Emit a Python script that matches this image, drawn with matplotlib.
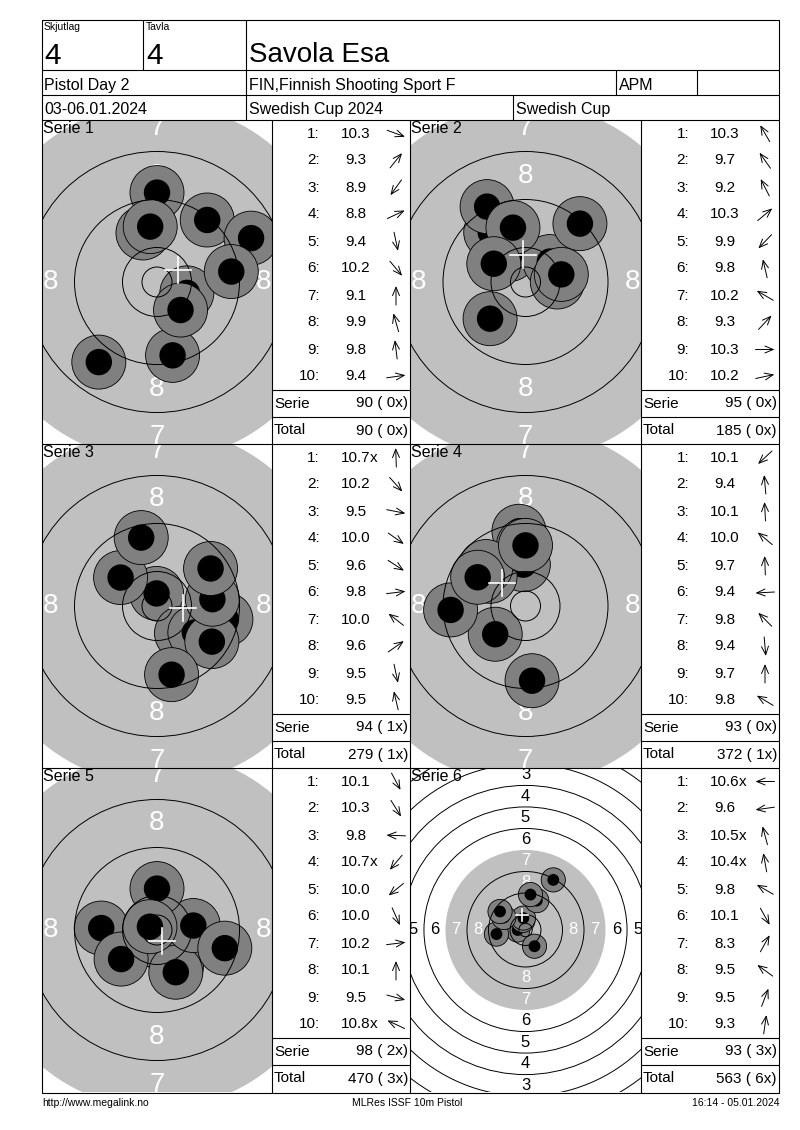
import numpy as np
import matplotlib.pyplot as plt
from matplotlib.patches import Circle

plt.rcParams['font.family'] = ['Liberation Sans', 'DejaVu Sans']

W, H = 800, 1130

# Header / footer texts
relay = "4"
lane = "4"
shooter = "Savola Esa"
event = "Pistol Day 2"
club = "FIN,Finnish Shooting Sport F"
shooter_class = "APM"
dates = "03-06.01.2024"
competition = "Swedish Cup 2024"
cup = "Swedish Cup"
footer_left = "http://www.megalink.no"
footer_mid = "MLRes ISSF 10m Pistol"
footer_right = "16:14 - 05.01.2024"

# Decimal scores per series
scores_1 = [10.3, 9.3, 8.9, 8.8, 9.4, 10.2, 9.1, 9.9, 9.8, 9.4]
scores_2 = [10.3, 9.7, 9.2, 10.3, 9.9, 9.8, 10.2, 9.3, 10.3, 10.2]
scores_3 = [10.7, 10.2, 9.5, 10.0, 9.6, 9.8, 10.0, 9.6, 9.5, 9.5]
scores_4 = [10.1, 9.4, 10.1, 10.0, 9.7, 9.4, 9.8, 9.4, 9.7, 9.8]
scores_5 = [10.1, 10.3, 9.8, 10.7, 10.0, 10.0, 10.2, 10.1, 9.5, 10.8]
scores_6 = [10.6, 9.6, 10.5, 10.4, 9.8, 10.1, 8.3, 9.5, 9.5, 9.3]

# Inner tens (shot numbers)
inner_1 = []
inner_2 = []
inner_3 = [1]
inner_4 = []
inner_5 = [4, 10]
inner_6 = [1, 3, 4]

# Shot direction from target centre, degrees (0 = right, 90 = up)
angles_1 = [-20, 51, -126, 25, -78, -50, 90, 106, 97, 8]
angles_2 = [120, 125, 117, 40, -134, 103, 150, 47, 0, 12]
angles_3 = [92, -48, -11, -35, -33, 7, 142, 35, -78, 103]
angles_4 = [-137, 95, 93, 140, 92, 183, 135, -85, 90, 149]
angles_5 = [-62, -58, 178, -130, -141, -66, 7, 90, -15, 155]
angles_6 = [180, 188, 105, 100, 150, -61, 61, 144, 69, 82]

all_scores = [scores_1, scores_2, scores_3, scores_4, scores_5, scores_6]
all_inner = [inner_1, inner_2, inner_3, inner_4, inner_5, inner_6]
all_angles = [angles_1, angles_2, angles_3, angles_4, angles_5, angles_6]

# display zoom of each target (pixels per mm) and ring label size
px_per_mm = [6.0, 6.0, 6.0, 6.0, 6.0, 2.69]
label_size = [20, 20, 20, 20, 20, 12]

# ISSF 10m pistol target (mm)
X_RING = 2.5
PELLET = 4.5


def ring_radius(k):
    return 5.75 + 8 * (10 - k)


fig = plt.figure(figsize=(W / 100, H / 100), dpi=100)
fig.patch.set_facecolor('white')

page = fig.add_axes([0, 0, 1, 1])
page.set_xlim(0, W)
page.set_ylim(H, 0)
page.axis('off')
page.set_zorder(5)
page.patch.set_visible(False)

LW = 0.8
left, right, top, bottom = 42, 779, 20, 1093


def hline(y, x0, x1):
    page.plot([x0, x1], [y, y], color='black', lw=LW, solid_capstyle='butt')


def vline(x, y0, y1):
    page.plot([x, x], [y0, y1], color='black', lw=LW, solid_capstyle='butt')


# frame and header
page.add_patch(plt.Rectangle((left, top), right - left, bottom - top,
                             fill=False, ec='black', lw=LW))
for y in (70, 95, 120):
    hline(y, left, right)
vline(143, 20, 70)
vline(246, 20, 120)
vline(616, 70, 95)
vline(697, 70, 95)
vline(513, 95, 120)

page.text(44, 22, "Skjutlag", fontsize=7.5, va='top')
page.text(146, 22, "Tavla", fontsize=7.5, va='top')
page.text(44, 64, relay, fontsize=21.5, va='baseline')
page.text(146, 64, lane, fontsize=21.5, va='baseline')
page.text(249, 62, shooter, fontsize=20, va='baseline')
page.text(44, 90, event, fontsize=11.5, va='baseline')
page.text(249, 90, club, fontsize=11.5, va='baseline')
page.text(619, 90, shooter_class, fontsize=11.5, va='baseline')
page.text(44, 114, dates, fontsize=11.5, va='baseline')
page.text(249, 114, competition, fontsize=11.5, va='baseline')
page.text(516, 114, cup, fontsize=11.5, va='baseline')

page.text(42, 1106, footer_left, fontsize=7.5, va='baseline')
page.text(407, 1106, footer_mid, fontsize=7.5, va='baseline', ha='center')
page.text(779, 1106, footer_right, fontsize=7.5, va='baseline', ha='right')

# panel grid
row_tops = [120, 444, 768]
row_h = 324
target_cols = [(42, 230), (410, 231)]
list_cols = [(272, 138), (641, 138)]
for y in row_tops[1:]:
    hline(y, left, right)
for x in (272, 410, 641):
    vline(x, 120, bottom)

total = 0
total_x = 0
for i in range(6):
    r, c = divmod(i, 2)
    ptop = row_tops[r]
    tleft, tw = target_cols[c]
    lleft, lw_ = list_cols[c]
    scores = all_scores[i]
    inner = all_inner[i]
    ang = np.radians(all_angles[i])
    dist = (11.0 - np.array(scores)) * 8 - 0.3
    xs = dist * np.cos(ang)
    ys = dist * np.sin(ang)

    # target
    sc = px_per_mm[i]
    ax = fig.add_axes([tleft / W, 1 - (ptop + row_h) / H, tw / W, row_h / H])
    ax.set_xlim(-tw / 2 / sc, tw / 2 / sc)
    ax.set_ylim(-row_h / 2 / sc, row_h / 2 / sc)
    ax.axis('off')
    ax.add_patch(Circle((0, 0), ring_radius(7), fc='#c0c0c0', ec='none', zorder=1))
    for k in range(1, 9):
        rr = ring_radius(k) - 4
        col = 'white' if k >= 7 else 'black'
        for (lx, ly) in ((0, rr), (0, -rr), (-rr, 0), (rr, 0)):
            ax.text(lx, ly, str(k), color=col, fontsize=label_size[i],
                    ha='center', va='center', clip_on=True, zorder=2)
    for x0, y0 in zip(xs, ys):
        ax.add_patch(Circle((x0, y0), PELLET, fc='#808080', ec='black', lw=0.6, zorder=3))
        ax.add_patch(Circle((x0, y0), PELLET / 2 - 0.05, fc='black', ec='none', zorder=3))
    for k in range(1, 11):
        if k == 7:
            continue
        ax.add_patch(Circle((0, 0), ring_radius(k), fill=False, ec='black', lw=0.7, zorder=4))
    ax.add_patch(Circle((0, 0), X_RING, fill=False, ec='black', lw=0.7, zorder=4))
    mx, my = xs.mean(), ys.mean()
    ax.plot([mx - 2.2, mx + 2.2], [my, my], color='white', lw=1.2, zorder=6)
    ax.plot([mx, mx], [my - 2.2, my + 2.2], color='white', lw=1.2, zorder=6)

    page.text(tleft + 1, ptop + 1, f"Serie {i + 1}", fontsize=11.5, va='top')

    # shot list
    for j, s in enumerate(scores):
        yc = ptop + 13.5 + 27 * j
        page.text(lleft + 48, yc, f"{j + 1}:", fontsize=11, ha='right', va='center')
        page.text(lleft + 84, yc, f"{s:.1f}", fontsize=11, ha='center', va='center')
        if (j + 1) in inner:
            page.text(lleft + 97.5, yc, "x", fontsize=11, ha='left', va='center')
        dx, dy = np.cos(ang[j]) * 9.5, -np.sin(ang[j]) * 9.5
        ax_c = lleft + 124
        page.annotate('', xy=(ax_c + dx, yc + dy), xytext=(ax_c - dx, yc - dy),
                      arrowprops=dict(arrowstyle='->,head_length=0.6,head_width=0.25',
                                      lw=0.7, color='black', shrinkA=0, shrinkB=0,
                                      mutation_scale=10))

    serie = int(sum(np.floor(np.array(scores) + 1e-6)))
    total += serie
    total_x += len(inner)
    hline(ptop + 270, lleft, lleft + lw_)
    hline(ptop + 297, lleft, lleft + lw_)
    page.text(lleft + 2, ptop + 283.5, "Serie", fontsize=11, va='center')
    page.text(lleft + 136, ptop + 283.5, f"{serie} ({len(inner):2d}x)", fontsize=11,
              va='center', ha='right')
    page.text(lleft + 2, ptop + 310.5, "Total", fontsize=11, va='center')
    page.text(lleft + 136, ptop + 310.5, f"{total} ({total_x:2d}x)", fontsize=11,
              va='center', ha='right')

fig.savefig('out.png', dpi=100, facecolor='white')
